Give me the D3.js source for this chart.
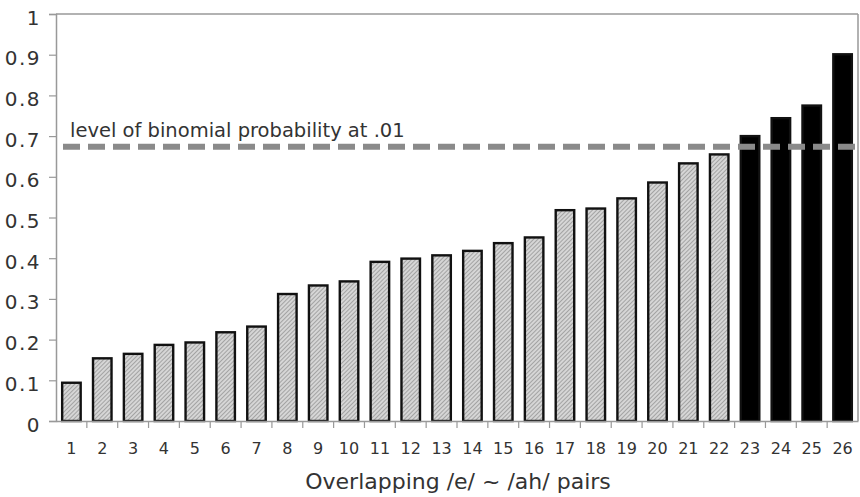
<!DOCTYPE html>
<html>
<meta charset="utf-8">
<title>Overlapping pairs</title>
<style>
body { margin: 0; background: #fff; }
text { font-family: "DejaVu Sans", Verdana, sans-serif; fill: #333; }
</style>
<body>
<svg id="chart" width="860" height="497"></svg>
<script src="https://d3js.org/d3.v7.min.js"></script>
<script>
// pair numbers 1..26
var pairs = ["1","2","3","4","5","6","7","8","9","10","11","12","13","14","15","16","17","18","19","20","21","22","23","24","25","26"];
var probs = [0.094,0.154,0.165,0.187,0.193,0.218,0.232,0.312,0.333,0.343,0.391,0.399,0.407,0.418,0.437,0.451,0.518,0.522,0.547,0.586,0.633,0.655,0.700,0.744,0.775,0.901];
// above the binomial level -> black
var significant = [false,false,false,false,false,false,false,false,false,false,false,false,false,false,false,false,false,false,false,false,false,false,true,true,true,true];
var yTicks = [0,0.1,0.2,0.3,0.4,0.5,0.6,0.7,0.8,0.9,1];
var yTickLabels = ["0","0.1","0.2","0.3","0.4","0.5","0.6","0.7","0.8","0.9","1"];
var threshold = 0.674;
var thresholdLabel = "level of binomial probability at .01";
var xTitle = "Overlapping /e/ ~ /ah/ pairs";

var mLeft = 56, mTop = 14, mRight = 858, mBottom = 421;

var svg = d3.select("#chart");

var defs = svg.append("defs");
var pat = defs.append("pattern")
  .attr("id", "hatch")
  .attr("patternUnits", "userSpaceOnUse")
  .attr("width", 3).attr("height", 3)
  .attr("patternTransform", "rotate(45)");
pat.append("rect").attr("width", 3).attr("height", 3).attr("fill", "#d6d6d6");
pat.append("line").attr("x1", 0).attr("y1", 0).attr("x2", 0).attr("y2", 3)
  .attr("stroke", "#808080").attr("stroke-width", 1.2);

var x = d3.scaleBand().domain(pairs).range([mLeft, mRight]).paddingInner(0.4).paddingOuter(0.2);
var y = d3.scaleLinear().domain([0, 1]).range([mBottom, mTop]);

// frame top + right
svg.append("line").attr("x1", mLeft).attr("x2", mRight).attr("y1", mTop).attr("y2", mTop)
  .attr("stroke", "#999").attr("stroke-width", 1.5);
svg.append("line").attr("x1", mRight).attr("x2", mRight).attr("y1", mTop).attr("y2", mBottom)
  .attr("stroke", "#999").attr("stroke-width", 1.5);

// y axis
var yAxis = svg.append("g")
  .attr("transform", "translate(" + mLeft + ",0)")
  .call(d3.axisLeft(y).tickValues(yTicks).tickSize(7).tickPadding(8)
    .tickFormat(function(d, i) { return yTickLabels[i]; }));
yAxis.select(".domain").attr("stroke", "#999").attr("stroke-width", 1.5);
yAxis.selectAll(".tick line").attr("stroke", "#999").attr("stroke-width", 1.2);
yAxis.selectAll(".tick text")
  .attr("font-size", 20).attr("letter-spacing", 1.5).attr("dy", "0.5em")
  .attr("fill", "#333").style("font-family", "'DejaVu Sans', Verdana, sans-serif");

// bars
svg.append("g").selectAll("rect")
  .data(probs)
  .join("rect")
  .attr("x", function(d, i) { return x(pairs[i]); })
  .attr("y", function(d) { return y(d); })
  .attr("width", x.bandwidth())
  .attr("height", function(d) { return y(0) - y(d); })
  .attr("fill", function(d, i) { return significant[i] ? "#000" : "url(#hatch)"; })
  .attr("stroke", "#111")
  .attr("stroke-width", 2.4);

// x axis
var xAxis = svg.append("g")
  .attr("transform", "translate(0," + mBottom + ")")
  .call(d3.axisBottom(x).tickSize(0).tickPadding(22));
xAxis.select(".domain").attr("stroke", "#999").attr("stroke-width", 1.5);
xAxis.selectAll(".tick text")
  .attr("font-size", 16).attr("fill", "#333")
  .style("font-family", "'DejaVu Sans', Verdana, sans-serif");
// tick marks between categories
var step = x.step();
xAxis.selectAll(".sep")
  .data(pairs.slice(1))
  .join("line")
  .attr("x1", function(d) { return x(d) - step * x.paddingInner() / 2; })
  .attr("x2", function(d) { return x(d) - step * x.paddingInner() / 2; })
  .attr("y1", 0).attr("y2", 7)
  .attr("stroke", "#999").attr("stroke-width", 1.2);

// threshold line
svg.append("line")
  .attr("x1", mLeft + 7).attr("x2", mRight)
  .attr("y1", y(threshold)).attr("y2", y(threshold))
  .attr("stroke", "#8a8a8a").attr("stroke-width", 6)
  .attr("stroke-dasharray", "17,8");

svg.append("text")
  .attr("x", 70).attr("y", y(threshold) - 10)
  .attr("font-size", 19.5)
  .text(thresholdLabel);

svg.append("text")
  .attr("x", (mLeft + mRight) / 2 + 1).attr("y", 489)
  .attr("text-anchor", "middle")
  .attr("font-size", 22)
  .text(xTitle);
</script>
</body>
</html>
